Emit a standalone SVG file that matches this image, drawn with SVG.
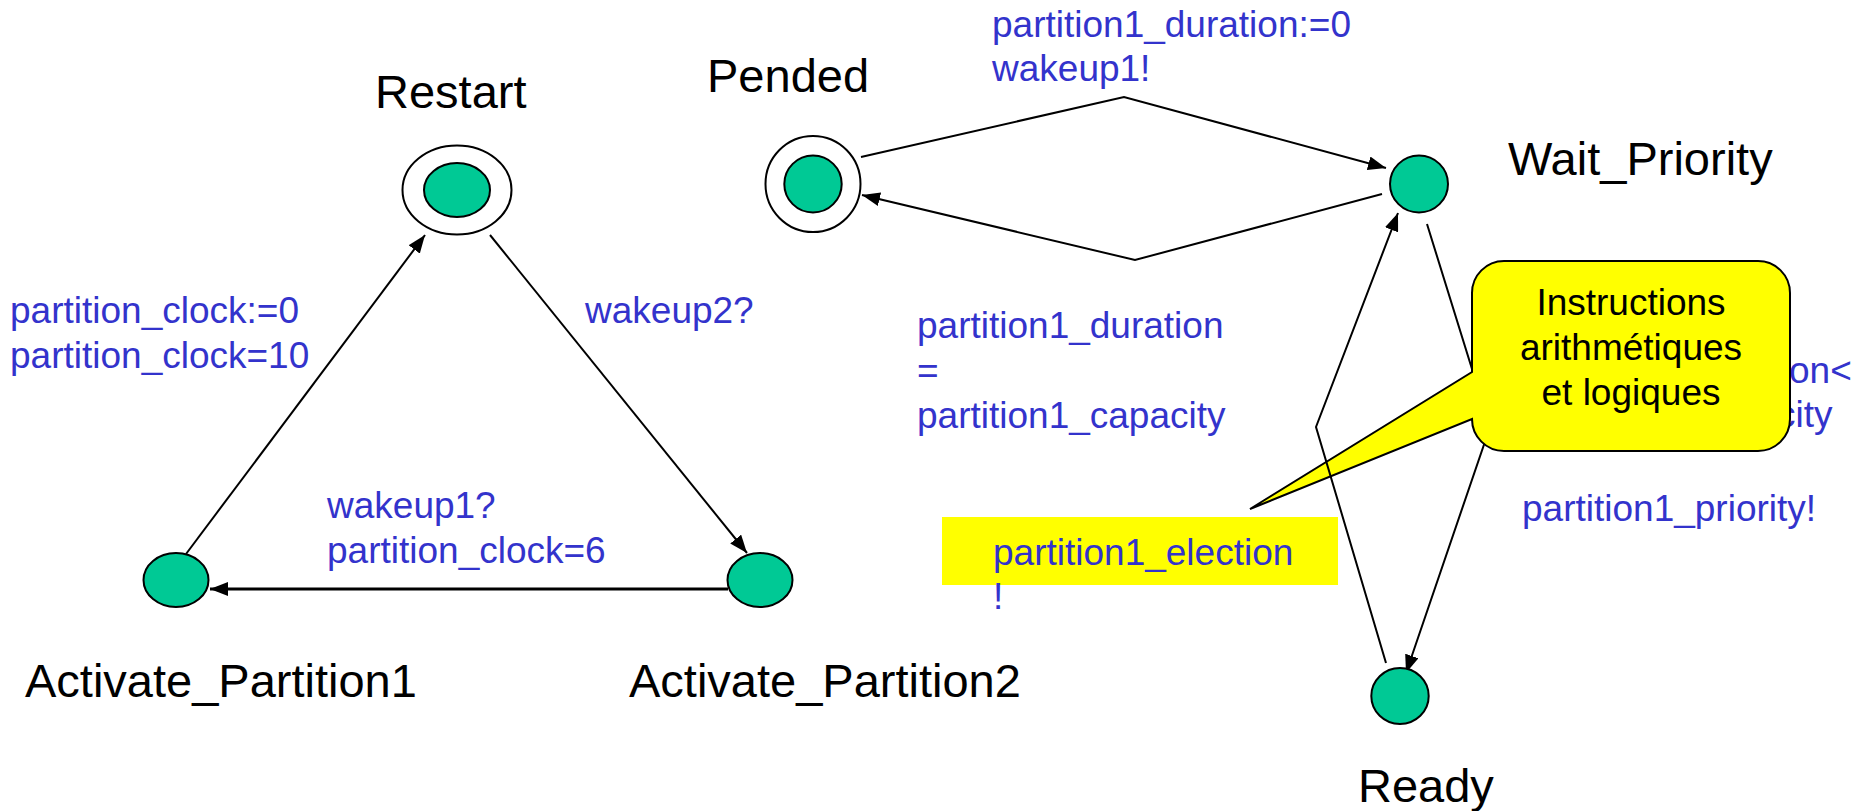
<svg xmlns="http://www.w3.org/2000/svg" width="1860" height="811" viewBox="0 0 1860 811">
  <style>
    text { font-family: "Liberation Sans", Arial, sans-serif; }
    .name { font-size: 47px; fill: #000; }
    .lbl { font-size: 37px; fill: #3333cc; }
    .note { font-size: 37px; fill: #000; text-anchor: middle; }
    .state { fill: #00c995; stroke: #000; stroke-width: 2; }
    .ring { fill: #fff; stroke: #000; stroke-width: 2; }
    .edge { fill: none; stroke: #000; stroke-width: 2; marker-end: url(#arrow); }
  </style>
  <defs>
    <marker id="arrow" markerUnits="userSpaceOnUse" markerWidth="18" markerHeight="14" refX="18" refY="7" orient="auto">
      <path d="M0,0 L18,7 L0,14 Z" fill="#000"/>
    </marker>
  </defs>
  <rect width="1860" height="811" fill="#fff"/>

  <!-- transition labels -->
  <g id="labels">
    <text class="lbl" x="10" y="323">partition_clock:=0</text>
    <text class="lbl" x="10" y="368">partition_clock=10</text>
    <text class="lbl" x="585" y="323">wakeup2?</text>
    <text class="lbl" x="327" y="518">wakeup1?</text>
    <text class="lbl" x="327" y="563">partition_clock=6</text>
    <text class="lbl" x="992" y="37">partition1_duration:=0</text>
    <text class="lbl" x="992" y="81">wakeup1!</text>
    <text class="lbl" x="917" y="338">partition1_duration</text>
    <text class="lbl" x="917" y="383">=</text>
    <text class="lbl" x="917" y="428">partition1_capacity</text>
    <!-- guard tail, the rest sits behind the callout -->
    <text class="lbl" x="1789" y="383">on&lt;</text>
    <text class="lbl" x="1777" y="427">city</text>
    <text class="lbl" x="1522" y="521">partition1_priority!</text>
  </g>

  <!-- highlighted election label -->
  <g id="election">
    <rect x="942" y="517" width="396" height="68" fill="#ffff00"/>
    <text class="lbl" x="993" y="565">partition1_election</text>
    <text class="lbl" x="993" y="609">!</text>
  </g>

  <!-- transitions -->
  <g id="connectors">
    <line class="edge" x1="186" y1="554" x2="425" y2="235"/>
    <line class="edge" x1="490" y1="235" x2="747" y2="553"/>
    <line class="edge" x1="728" y1="589" x2="210" y2="589" style="stroke-width:3"/>
    <polyline class="edge" points="861,157 1124,97 1386,168"/>
    <polyline class="edge" points="1382,194 1135,260 862,195"/>
    <polyline class="edge" points="1427,224 1490,427 1406,673"/>
  </g>

  <!-- callout -->
  <g id="callout">
    <path d="M1504,261 H1758 A32,32 0 0 1 1790,293 V419 A32,32 0 0 1 1758,451 H1504 A32,32 0 0 1 1472,419 L1250,509 L1472,372 V293 A32,32 0 0 1 1504,261 Z" fill="#ffff00" stroke="#000" stroke-width="2"/>
    <text class="note" x="1631" y="315">Instructions</text>
    <text class="note" x="1631" y="360">arithmétiques</text>
    <text class="note" x="1631" y="405">et logiques</text>
  </g>

  <g id="connectors-front">
    <polyline class="edge" points="1386,663 1316,427 1398,213"/>
  </g>

  <!-- states -->
  <g id="restart">
    <ellipse class="ring" cx="457" cy="190" rx="54.5" ry="44.5"/>
    <ellipse class="state" cx="457" cy="190" rx="33" ry="27"/>
    <text class="name" x="375" y="108">Restart</text>
  </g>
  <g id="activate_partition1">
    <ellipse class="state" cx="176" cy="580" rx="32.5" ry="27"/>
    <text class="name" x="25" y="697">Activate_Partition1</text>
  </g>
  <g id="activate_partition2">
    <ellipse class="state" cx="760" cy="580" rx="32.5" ry="27"/>
    <text class="name" x="629" y="697">Activate_Partition2</text>
  </g>
  <g id="pended">
    <ellipse class="ring" cx="813" cy="184" rx="47.5" ry="48"/>
    <ellipse class="state" cx="813" cy="184" rx="28.7" ry="28.5"/>
    <text class="name" x="707" y="92">Pended</text>
  </g>
  <g id="wait_priority">
    <ellipse class="state" cx="1419" cy="184" rx="29" ry="28.5"/>
    <text class="name" x="1508" y="175">Wait_Priority</text>
  </g>
  <g id="ready">
    <ellipse class="state" cx="1400" cy="696" rx="28.7" ry="28"/>
    <text class="name" x="1358" y="802">Ready</text>
  </g>
</svg>
